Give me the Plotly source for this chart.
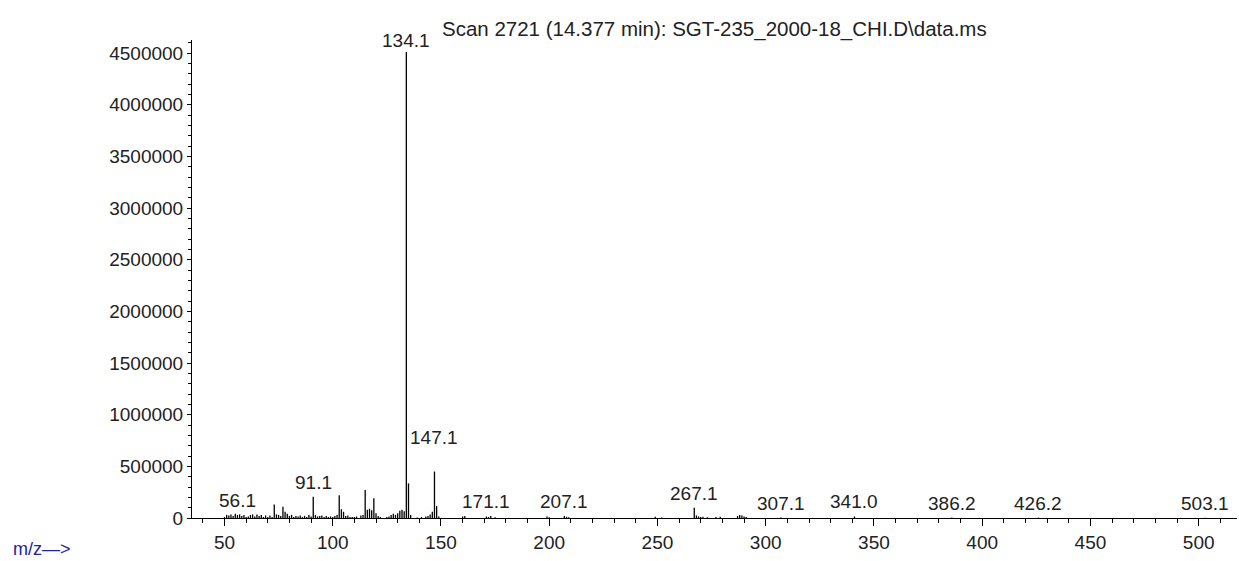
import plotly.graph_objects as go

# ---- data ----
title_text = "Scan 2721 (14.377 min): SGT-235_2000-18_CHI.D\\data.ms"

mz = [50, 51, 52, 53, 54, 55, 56, 57, 58, 59, 60, 61, 62, 63, 64, 65, 66, 67, 68, 69,
      70, 71, 72, 73, 74, 75, 76, 77, 78, 79, 80, 81, 82, 83, 84, 85, 86, 87, 88, 89,
      90, 91, 92, 93, 94, 95, 96, 97, 98, 99, 100, 101, 102, 103, 104, 105, 106, 107,
      108, 109, 110, 111, 113, 114, 115, 116, 117, 118, 119, 120, 121, 122, 125, 126,
      127, 128, 129, 130, 131, 132, 133, 134, 135, 136, 139, 141, 143, 144, 145, 146,
      147, 148, 149, 160, 161, 171, 172, 173, 175, 199, 200, 207, 208, 209, 249, 252,
      267, 268, 269, 270, 271, 273, 277, 279, 287, 288, 289, 290, 291, 307, 341, 386,
      426, 503]

abundance = [10000, 30000, 25000, 35000, 20000, 40000, 30000, 35000, 20000, 30000,
             10000, 15000, 30000, 35000, 15000, 35000, 20000, 30000, 10000, 25000,
             10000, 25000, 10000, 130000, 35000, 30000, 20000, 110000, 60000, 40000,
             20000, 30000, 10000, 20000, 15000, 25000, 10000, 20000, 10000, 30000,
             15000, 205000, 30000, 15000, 20000, 25000, 10000, 20000, 10000, 15000,
             10000, 20000, 30000, 220000, 85000, 60000, 20000, 25000,
             10000, 10000, 10000, 15000, 25000, 30000, 270000, 80000, 90000, 75000,
             190000, 45000, 20000, 10000, 10000, 15000,
             30000, 40000, 30000, 45000, 70000, 80000, 65000, 4510000, 335000, 30000,
             5000, 10000, 15000, 20000, 35000, 60000,
             450000, 115000, 15000, 15000, 20000, 15000, 10000, 20000, 8000, 15000,
             8000, 20000, 12000, 8000, 12000, 6000,
             100000, 25000, 15000, 10000, 12000, 8000, 10000, 12000, 20000, 30000,
             25000, 15000, 10000, 4000, 15000, 4000,
             4000, 3000]

label_mz = [56, 91, 134, 147, 171, 207, 267, 307, 341, 386, 426, 503]
label_text = ["56.1", "91.1", "134.1", "147.1", "171.1", "207.1", "267.1",
              "307.1", "341.0", "386.2", "426.2", "503.1"]

y_ticks = [0, 500000, 1000000, 1500000, 2000000, 2500000, 3000000, 3500000,
           4000000, 4500000]
x_ticks = [50, 100, 150, 200, 250, 300, 350, 400, 450, 500]

FONT = "Liberation Sans, Arial, sans-serif"

# ---- build stick spectrum ----
xs, ys = [], []
for m, a in zip(mz, abundance):
    xs += [m, m, None]
    ys += [0, a, None]

fig = go.Figure()
fig.add_trace(go.Scatter(x=xs, y=ys, mode="lines",
                         line=dict(color="black", width=1.3),
                         hoverinfo="skip", showlegend=False))

lookup = dict(zip(mz, abundance))
label_shift = {134: -1, 147: 22}
for m, t in zip(label_mz, label_text):
    fig.add_annotation(x=m, y=lookup.get(m, 0), text=t, showarrow=False,
                       xanchor="center", yanchor="bottom",
                       yshift=label_shift.get(m, 2),
                       font=dict(size=19, color="#222222", family=FONT))

fig.add_annotation(x=0.5, y=1, xref="paper", yref="paper", yanchor="bottom",
                   yshift=-3, text=title_text, showarrow=False,
                   font=dict(size=20.5, color="#222222", family=FONT))

# axis caption below-left (position in pixels converted to paper units)
PLOT_W, PLOT_H = 1239 - 192 - 2, 561 - 40 - 43
fig.add_annotation(x=(11 - 192) / PLOT_W, y=-(549 - 518) / PLOT_H,
                   xref="paper", yref="paper", text="m/z—>",
                   showarrow=False, xanchor="left", yanchor="middle",
                   font=dict(size=18, color="#23239a", family=FONT))

fig.update_layout(
    width=1239, height=561,
    margin=dict(l=192, r=2, t=40, b=43),
    paper_bgcolor="white", plot_bgcolor="white",
    font=dict(family=FONT, size=19, color="#222222"),
    xaxis=dict(range=[35.0, 517.7], tickvals=x_ticks, ticks="outside", ticklen=7,
               tickcolor="black", showgrid=False, zeroline=False,
               showline=True, linecolor="black", linewidth=1,
               minor=dict(dtick=10, tick0=0, ticks="outside", ticklen=4,
                          tickcolor="black"),
               tickfont=dict(size=19)),
    yaxis=dict(range=[0, 4627000], tickvals=y_ticks,
               ticktext=[str(v) for v in y_ticks], ticks="outside", ticklen=4,
               tickcolor="black", showgrid=False, zeroline=False,
               showline=True, linecolor="black", linewidth=1,
               minor=dict(dtick=100000, tick0=0, ticks="outside", ticklen=3,
                          tickcolor="black"),
               tickfont=dict(size=19)),
)

fig.write_html("out.html",
               config={"displayModeBar": False},
               post_script="document.body.style.margin='0';"
                           "document.body.style.overflow='hidden';")
